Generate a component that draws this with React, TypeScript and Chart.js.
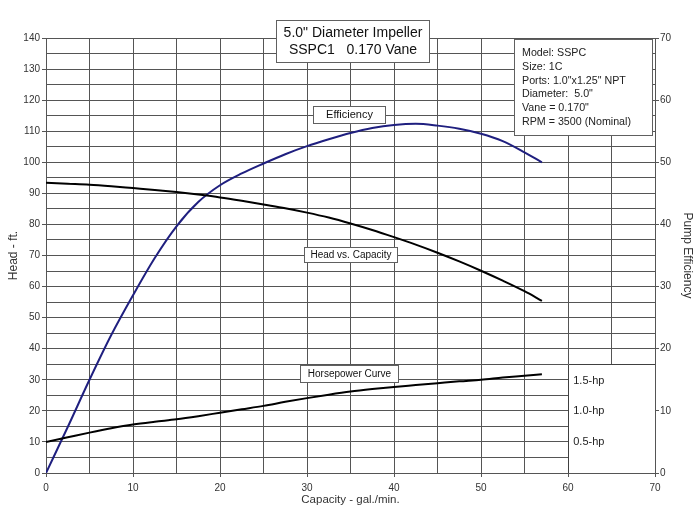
import { useEffect, useRef } from 'react';
import { Chart, registerables } from 'chart.js';

Chart.register(...registerables);

// Pump performance data (capacity in gal./min.)
const capacity = [0, 2.5, 5, 7.5, 10, 12.5, 15, 17.5, 20, 22.5, 25, 27.5, 30, 32.5, 35, 37.5, 40, 42.5, 45, 47.5, 50, 52.5, 55, 57];
const headFt = [93.4, 93.1, 92.8, 92.3, 91.7, 91.1, 90.4, 89.6, 88.7, 87.6, 86.4, 85.2, 83.8, 82.2, 80.3, 78.2, 75.9, 73.5, 70.9, 68.1, 65.1, 61.9, 58.5, 55.4];
const efficiencyPct = [0, 7.4, 15.0, 22.2, 28.6, 34.6, 39.7, 43.6, 46.3, 48.2, 49.8, 51.3, 52.6, 53.7, 54.7, 55.5, 56.0, 56.2, 55.9, 55.4, 54.6, 53.4, 51.6, 50.0];
const horsepowerFt = [10.0, 11.5, 13.0, 14.4, 15.6, 16.5, 17.3, 18.3, 19.4, 20.5, 21.6, 22.9, 24.1, 25.2, 26.2, 27.0, 27.7, 28.3, 28.9, 29.5, 30.0, 30.7, 31.3, 31.8];

// Horsepower reference marks, read against the head axis
const hpLabels = ['1.5-hp', '1.0-hp', '0.5-hp'];
const hpLevels = [29.5, 20, 10];

const titleLines = ['5.0" Diameter Impeller', 'SSPC1   0.170 Vane'];
const infoLines = ['Model: SSPC', 'Size: 1C', 'Ports: 1.0"x1.25" NPT', 'Diameter:  5.0"', 'Vane = 0.170"', 'RPM = 3500 (Nominal)'];

const FONT = '"Liberation Sans", Arial, Helvetica, sans-serif';
const GRID = '#555555';
const TEXT = '#333333';

type Rect = { x0: number; x1: number; y0: number; y1: number };

// Label boxes placed in data coordinates (capacity, head)
const titleBox: Rect = { x0: 26.4, x1: 44.1, y0: 145.8, y1: 131.9 };
const infoBox: Rect = { x0: 53.8, x1: 69.8, y0: 139.6, y1: 108.5 };
const effBox: Rect = { x0: 30.7, x1: 39.1, y0: 118.1, y1: 112.3 };
const headBox: Rect = { x0: 29.7, x1: 40.5, y0: 72.8, y1: 67.6 };
const hpBox: Rect = { x0: 29.2, x1: 40.6, y0: 34.6, y1: 29.0 };
const hpScaleBox: Rect = { x0: 60, x1: 70, y0: 35, y1: 0 };

const notesPlugin = {
  id: 'pumpNotes',
  afterDatasetsDraw(chart: any) {
    const { ctx } = chart;
    const xs = chart.scales.x;
    const ys = chart.scales.y;
    const px = (v: number) => xs.getPixelForValue(v);
    const py = (v: number) => ys.getPixelForValue(v);

    const rectPx = (r: Rect) => {
      const l = Math.round(px(r.x0));
      const rt = Math.round(px(r.x1));
      const t = Math.round(py(r.y0));
      const b = Math.round(py(r.y1));
      return { l, rt, t, b };
    };

    const drawBox = (r: Rect) => {
      const { l, rt, t, b } = rectPx(r);
      ctx.save();
      ctx.fillStyle = '#ffffff';
      ctx.fillRect(l, t, rt - l, b - t);
      ctx.strokeStyle = '#606060';
      ctx.lineWidth = 1;
      ctx.strokeRect(l + 0.5, t + 0.5, rt - l - 1, b - t - 1);
      ctx.restore();
      return { l, rt, t, b };
    };

    const centeredText = (r: Rect, lines: string[], size: number, lineGap: number) => {
      const { l, rt, t, b } = drawBox(r);
      ctx.save();
      ctx.fillStyle = '#111111';
      ctx.font = `${size}px ${FONT}`;
      ctx.textAlign = 'center';
      ctx.textBaseline = 'middle';
      const cx = (l + rt) / 2;
      const cy = (t + b) / 2;
      const start = cy - ((lines.length - 1) * lineGap) / 2;
      lines.forEach((s, i) => ctx.fillText(s, cx, start + i * lineGap));
      ctx.restore();
    };

    // Title block
    centeredText(titleBox, titleLines, 14, 17.5);

    // Curve labels
    centeredText(effBox, ['Efficiency'], 11, 0);
    centeredText(headBox, ['Head vs. Capacity'], 10, 0);
    centeredText(hpBox, ['Horsepower Curve'], 10, 0);

    // Specification block
    const info = drawBox(infoBox);
    ctx.save();
    ctx.fillStyle = '#222222';
    ctx.font = `10.7px ${FONT}`;
    ctx.textAlign = 'left';
    ctx.textBaseline = 'middle';
    infoLines.forEach((s, i) => ctx.fillText(s, info.l + 8, info.t + 14 + i * 13.8));
    ctx.restore();

    // Horsepower scale panel in the lower right corner
    const { l, rt, t, b } = rectPx(hpScaleBox);
    ctx.save();
    ctx.fillStyle = '#ffffff';
    ctx.fillRect(l, t, rt - l, b - t);
    ctx.strokeStyle = '#404040';
    ctx.lineWidth = 1;
    ctx.beginPath();
    ctx.moveTo(l + 0.5, b);
    ctx.lineTo(l + 0.5, t + 0.5);
    ctx.lineTo(rt, t + 0.5);
    ctx.stroke();
    ctx.fillStyle = '#222222';
    ctx.font = `11px ${FONT}`;
    ctx.textAlign = 'left';
    ctx.textBaseline = 'middle';
    hpLabels.forEach((s, i) => ctx.fillText(s, px(60.6), py(hpLevels[i])));
    ctx.restore();
  },
};

export default function App() {
  const canvasRef = useRef<HTMLCanvasElement | null>(null);

  useEffect(() => {
    document.body.style.margin = '0';
    const canvas = canvasRef.current;
    if (!canvas) return;

    const toPoints = (ys: number[]) => capacity.map((c, i) => ({ x: c, y: ys[i] }));
    const majorTick = (v: number) => Math.abs(v % 10) < 1e-6;

    const chart = new Chart(canvas, {
      type: 'line',
      data: {
        datasets: [
          {
            label: 'Head vs. Capacity',
            data: toPoints(headFt),
            borderColor: '#000000',
            borderWidth: 2,
            pointRadius: 0,
            cubicInterpolationMode: 'monotone',
            yAxisID: 'y',
          },
          {
            label: 'Horsepower Curve',
            data: toPoints(horsepowerFt),
            borderColor: '#000000',
            borderWidth: 2,
            pointRadius: 0,
            cubicInterpolationMode: 'monotone',
            yAxisID: 'y',
          },
          {
            label: 'Efficiency',
            data: toPoints(efficiencyPct),
            borderColor: '#1f1f7f',
            borderWidth: 2,
            pointRadius: 0,
            cubicInterpolationMode: 'monotone',
            yAxisID: 'y1',
          },
        ],
      },
      options: {
        responsive: false,
        animation: false,
        devicePixelRatio: 1,
        layout: { padding: { top: 38, left: 0, right: 0, bottom: 0 } },
        plugins: {
          legend: { display: false },
          tooltip: { enabled: false },
        },
        scales: {
          x: {
            type: 'linear',
            min: 0,
            max: 70,
            afterFit: (s: any) => { s.height = 49; },
            ticks: {
              stepSize: 5,
              autoSkip: false,
              maxRotation: 0,
              padding: 5,
              color: TEXT,
              font: { family: FONT, size: 10 },
              callback: (v: any) => (majorTick(Number(v)) ? String(v) : ''),
            },
            grid: {
              color: GRID,
              tickLength: 4,
              tickColor: (c: any) => (majorTick(c.tick.value) ? GRID : 'rgba(0,0,0,0)'),
            },
            border: { color: GRID },
            title: {
              display: true,
              text: 'Capacity - gal./min.',
              color: TEXT,
              font: { family: FONT, size: 11.5 },
              padding: { top: 0, bottom: 15 },
            },
          },
          y: {
            type: 'linear',
            position: 'left',
            min: 0,
            max: 140,
            afterFit: (s: any) => { s.width = 46; },
            ticks: {
              stepSize: 5,
              autoSkip: false,
              padding: 2,
              color: TEXT,
              font: { family: FONT, size: 10 },
              callback: (v: any) => (majorTick(Number(v)) ? String(v) : ''),
            },
            grid: {
              color: GRID,
              tickLength: 4,
              tickColor: (c: any) => (majorTick(c.tick.value) ? GRID : 'rgba(0,0,0,0)'),
            },
            border: { color: GRID },
            title: {
              display: true,
              text: 'Head - ft.',
              color: TEXT,
              font: { family: FONT, size: 12 },
              padding: { top: 6, bottom: 0 },
            },
          },
          y1: {
            type: 'linear',
            position: 'right',
            min: 0,
            max: 70,
            afterFit: (s: any) => { s.width = 45; },
            ticks: {
              stepSize: 10,
              padding: 1,
              color: TEXT,
              font: { family: FONT, size: 10 },
            },
            grid: {
              drawOnChartArea: false,
              color: GRID,
              tickLength: 4,
            },
            border: { color: GRID },
            title: {
              display: true,
              text: 'Pump Efficiency',
              color: TEXT,
              font: { family: FONT, size: 12 },
              padding: { top: 5, bottom: 0 },
            },
          },
        },
      },
      plugins: [notesPlugin],
    } as any);

    return () => chart.destroy();
  }, []);

  return (
    <div style={{ width: 700, height: 522, background: '#ffffff' }}>
      <canvas ref={canvasRef} width={700} height={522} style={{ display: 'block' }} />
    </div>
  );
}
